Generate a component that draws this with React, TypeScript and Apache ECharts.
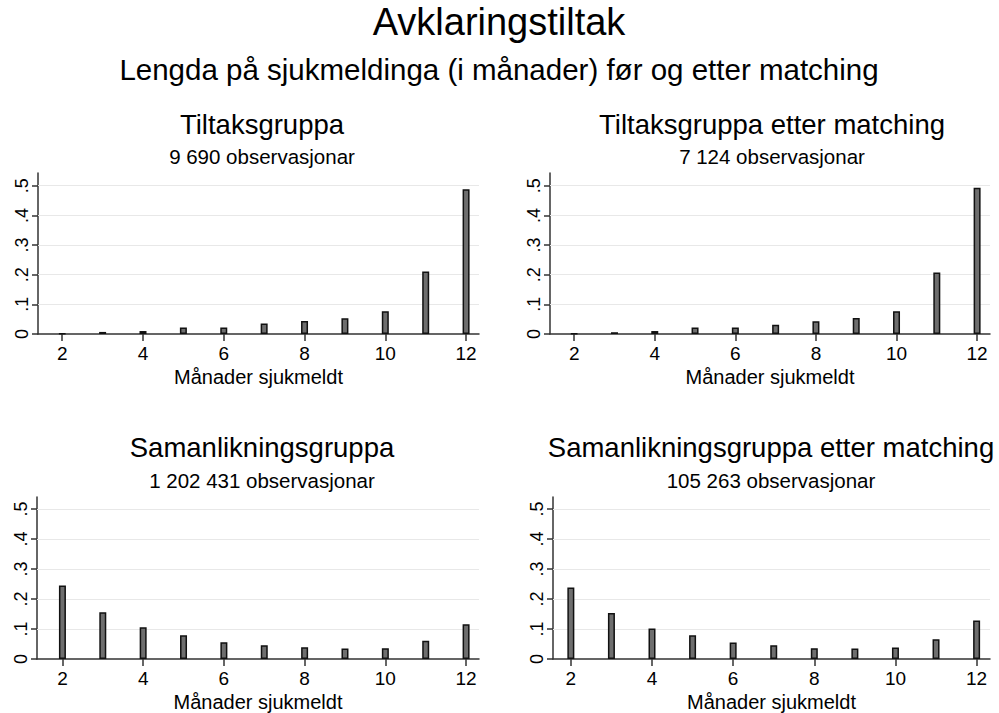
import React, { useEffect, useRef } from "react";
import * as echarts from "echarts";

const months = [2, 3, 4, 5, 6, 7, 8, 9, 10, 11, 12];
const tiltak = [0.001, 0.007, 0.01, 0.022, 0.022, 0.035, 0.044, 0.053, 0.077, 0.211, 0.488];
const tiltakMatch = [0.001, 0.006, 0.01, 0.022, 0.022, 0.031, 0.043, 0.054, 0.077, 0.207, 0.493];
const saman = [0.245, 0.156, 0.106, 0.079, 0.056, 0.046, 0.039, 0.035, 0.036, 0.061, 0.116];
const samanMatch = [0.238, 0.153, 0.102, 0.079, 0.055, 0.046, 0.036, 0.035, 0.038, 0.066, 0.128];
const xTicks = [2, 4, 6, 8, 10, 12];
const yTicks = [0, 0.1, 0.2, 0.3, 0.4, 0.5];
const gridYs = [0.1, 0.2, 0.3, 0.4, 0.5];
const panelTitles = ["Tiltaksgruppa", "Tiltaksgruppa etter matching", "Samanlikningsgruppa", "Samanlikningsgruppa etter matching"];
const panelSubs = ["9 690 observasjonar", "7 124 observasjonar", "1 202 431 observasjonar", "105 263 observasjonar"];
const mainTitle = "Avklaringstiltak";
const subTitle = "Lengda på sjukmeldinga (i månader) før og etter matching";
const xName = "Månader sjukmeldt";

const FONT = "'Liberation Sans', Arial, sans-serif";

export default function App() {
  const ref = useRef<HTMLDivElement>(null);
  useEffect(() => {
    if (!ref.current) return;
    const chart = echarts.init(ref.current, undefined, { renderer: "svg" });
    const seriesData = [tiltak, tiltakMatch, saman, samanMatch];
    const grids = [
      { left: 38, right: 520, top: 173, bottom: 379 },
      { left: 550, right: 9, top: 173, bottom: 379 },
      { left: 37, right: 520, top: 497, bottom: 54 },
      { left: 553, right: 9, top: 497, bottom: 54 },
    ];
    const xMins = [1.4, 1.4, 1.37, 1.56];
    const xMaxs = [12.32, 12.32, 12.32, 12.33];
    const yMaxs = [0.543, 0.543, 0.54, 0.54];
    const titleCenters = [262, 772, 262, 771];
    const titleTops = [110, 110, 433, 433];
    const subTops = [146, 146, 470, 470];

    const titles: any[] = [
      { text: mainTitle, left: 499, top: 3, padding: 0, textAlign: "center", textStyle: { fontFamily: FONT, fontSize: 38, fontWeight: "normal", color: "#000" } },
      { text: subTitle, left: 499, top: 54, padding: 0, textAlign: "center", textStyle: { fontFamily: FONT, fontSize: 29.5, fontWeight: "normal", color: "#000" } },
    ];
    panelTitles.forEach((t, i) => {
      titles.push({ text: t, left: titleCenters[i], top: titleTops[i], padding: 0, textAlign: "center", textStyle: { fontFamily: FONT, fontSize: 27.5, fontWeight: "normal", color: "#000" } });
      titles.push({ text: panelSubs[i], left: titleCenters[i], top: subTops[i], padding: 0, textAlign: "center", textStyle: { fontFamily: FONT, fontSize: 20.5, fontWeight: "normal", color: "#000" } });
    });

    const option: any = {
      animation: false,
      backgroundColor: "#fff",
      title: titles,
      grid: grids,
      xAxis: grids.map((_, i) => ({
        type: "value",
        gridIndex: i,
        min: xMins[i],
        max: xMaxs[i],
        name: xName,
        nameLocation: "middle",
        nameGap: 33,
        nameTextStyle: { fontFamily: FONT, fontSize: 20, color: "#000" },
        axisLine: { show: true, lineStyle: { color: "#333", width: 1.5 } },
        axisTick: { show: true, customValues: xTicks, length: 7, lineStyle: { color: "#333", width: 1.5 } },
        axisLabel: { customValues: xTicks, fontFamily: FONT, fontSize: 19, color: "#000", margin: 10 },
        splitLine: { show: false },
      })),
      yAxis: grids.map((_, i) => ({
        type: "value",
        gridIndex: i,
        min: 0,
        max: yMaxs[i],
        axisLine: { show: true, lineStyle: { color: "#333", width: 1.5 } },
        axisTick: { show: true, customValues: yTicks, length: 6, lineStyle: { color: "#333", width: 1.5 } },
        axisLabel: {
          customValues: yTicks,
          rotate: 90,
          fontFamily: FONT,
          fontSize: 18,
          color: "#000",
          margin: 7,
          formatter: (v: number) => (v === 0 ? "0" : String(Math.round(v * 10) / 10).replace(/^0/, "")),
        },
        splitLine: { show: false },
      })),
      series: seriesData.map((d, i) => ({
        type: "bar",
        xAxisIndex: i,
        yAxisIndex: i,
        barWidth: 7,
        data: months.map((m, k) => [m, d[k]]),
        itemStyle: { color: "#6e6e6e", borderColor: "#111", borderWidth: 1.5 },
        z: 3,
        markLine: {
          silent: true,
          symbol: "none",
          label: { show: false },
          lineStyle: { color: "#e8e8e8", type: "solid", width: 1.2 },
          data: gridYs.map((y) => ({ yAxis: y })),
          z: 1,
        },
      })),
    };
    chart.setOption(option);
    return () => chart.dispose();
  }, []);
  return <div ref={ref} style={{ position: "absolute", left: 0, top: 0, width: 999, height: 713 }} />;
}
